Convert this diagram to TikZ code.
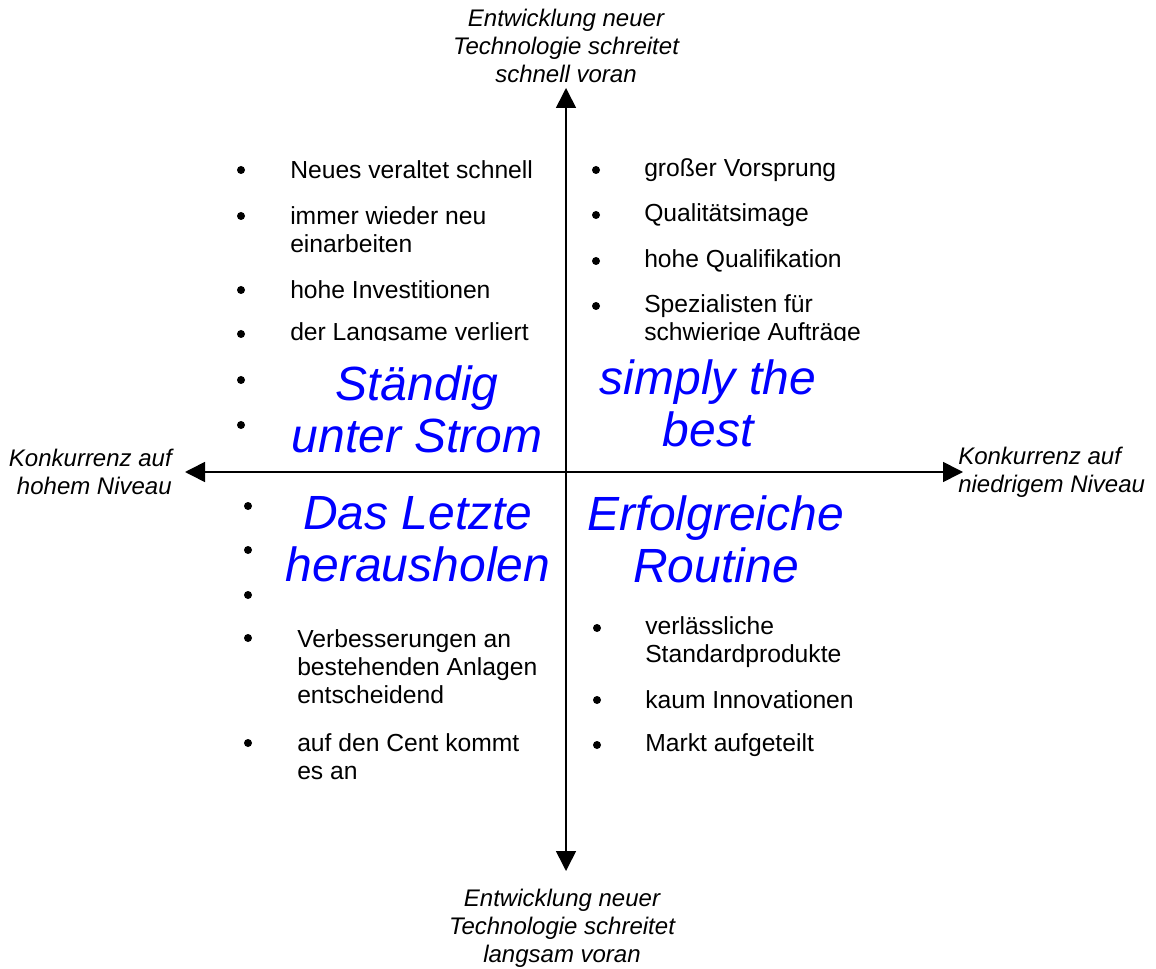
\documentclass[tikz,border=0pt]{standalone}
\usepackage{fontspec}
\setmainfont{Liberation Sans}
\usetikzlibrary{arrows.meta}
\definecolor{LabelBlue}{RGB}{0,0,255}

\begin{document}
\begin{tikzpicture}[x=0.75pt,y=-0.75pt,
    axis/.style={line width=1.2pt,{Triangle[length=15pt,width=15pt]}-{Triangle[length=15pt,width=15pt]}},
    axislabel/.style={font=\itshape\fontsize{18}{21}\selectfont,inner sep=0pt},
    item/.style={font=\fontsize{18.5}{21}\selectfont,anchor=west,align=left,inner sep=0pt},
    dot/.style={circle,fill=black,inner sep=0pt,minimum size=6pt},
    quadlabel/.style={font=\itshape\fontsize{36}{39}\selectfont,text=LabelBlue,align=center,inner sep=0pt}]
    \useasboundingbox (0,0) rectangle (1156,969);
    % axes
    \coordinate (north) at (566,88);
    \coordinate (south) at (566,871);
    \coordinate (west) at (185,472);
    \coordinate (east) at (963,472);
    \draw[axis] (south) -- (north);
    \draw[axis] (west) -- (east);
    \node[axislabel,align=center] (fast) at (566,46) {Entwicklung neuer\\Technologie schreitet\\schnell voran};
    \node[axislabel,align=center] (slow) at (562,928) {Entwicklung neuer\\Technologie schreitet\\langsam voran};
    \node[axislabel,align=right,anchor=east] (high) at (172,472) {Konkurrenz auf\\hohem Niveau};
    \node[axislabel,align=left,anchor=west] (low) at (958,472) {Konkurrenz auf\\niedrigem Niveau};
    % top left quadrant
    \begin{scope}
        \clip (200,140) rectangle (900,341);
        \node[item] (tl1) at (290,170) {Neues veraltet schnell};
        \node[item] (tl2) at (290,230) {immer wieder neu\\einarbeiten};
        \node[item] (tl3) at (290,290) {hohe Investitionen};
        \node[item] (tl4) at (290,334) {der Langsame verliert};
        \node[item] (tr4) at (644,320) {Spezialisten für\\schwierige Aufträge};
    \end{scope}
    \foreach \y in {170,216,290,334,380,425}
        \node[dot] at (241,\y) {};
    \node[quadlabel] (strom) at (417,409) {Ständig\\unter Strom};
    % top right quadrant
    \node[item] (tr1) at (644,170) {großer Vorsprung};
    \node[item] (tr2) at (644,215) {Qualitätsimage};
    \node[item] (tr3) at (644,261) {hohe Qualifikation};
    \foreach \y in {170,215,261,306}
        \node[dot] at (596,\y) {};
    \node[quadlabel] (best) at (708,403) {simply the\\best};
    % bottom left quadrant
    \node[item] (bl1) at (297,667) {Verbesserungen an\\bestehenden Anlagen\\entscheidend};
    \node[item] (bl2) at (297,757) {auf den Cent kommt\\es an};
    \foreach \y in {506,550,595,638,743}
        \node[dot] at (248,\y) {};
    \node[quadlabel] (letzte) at (418,539) {Das Letzte\\herausholen};
    % bottom right quadrant
    \node[item] (br1) at (645,642) {verlässliche\\Standardprodukte};
    \node[item] (br2) at (645,700) {kaum Innovationen};
    \node[item] (br3) at (645,745) {Markt aufgeteilt};
    \foreach \y in {628,700,745}
        \node[dot] at (597,\y) {};
    \node[quadlabel] (routine) at (716,539) {Erfolgreiche\\Routine};
\end{tikzpicture}
\end{document}
